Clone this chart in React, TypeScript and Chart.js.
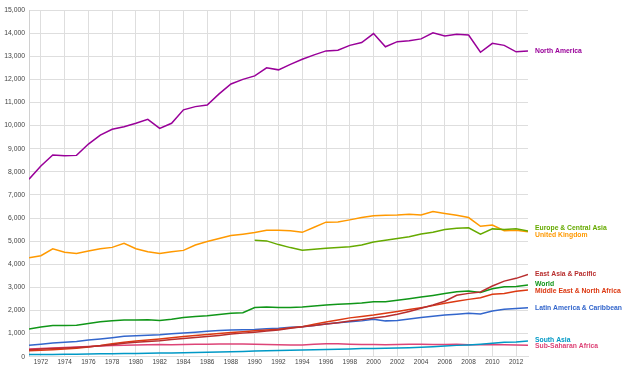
import React, { useEffect, useRef } from 'react';
import { Chart, registerables } from 'chart.js';

Chart.register(...registerables);

const years = [
  1971, 1972, 1973, 1974, 1975, 1976, 1977, 1978, 1979, 1980,
  1981, 1982, 1983, 1984, 1985, 1986, 1987, 1988, 1989, 1990,
  1991, 1992, 1993, 1994, 1995, 1996, 1997, 1998, 1999, 2000,
  2001, 2002, 2003, 2004, 2005, 2006, 2007, 2008, 2009, 2010,
  2011, 2012, 2013,
];

const xTickYears = [
  1972, 1974, 1976, 1978, 1980, 1982, 1984, 1986, 1988, 1990, 1992,
  1994, 1996, 1998, 2000, 2002, 2004, 2006, 2008, 2010, 2012,
];

const northAmerica = [
  7680, 8250, 8730, 8690, 8710, 9200, 9590, 9840, 9950, 10100,
  10270, 9880, 10100, 10680, 10820, 10890, 11370, 11800, 12000, 12150,
  12500, 12410, 12650, 12870, 13060, 13230, 13260, 13470, 13590, 13980,
  13410, 13630, 13670, 13750, 14010, 13880, 13950, 13920, 13170, 13560,
  13470, 13190, 13230,
];

const europeCentralAsia = [
  null, null, null, null, null, null, null, null, null, null,
  null, null, null, null, null, null, null, null, null, 5040,
  5010, 4850, 4720, 4610, 4650, 4690, 4720, 4760, 4830, 4960,
  5040, 5110, 5190, 5310, 5380, 5500, 5560, 5580, 5300, 5530,
  5500, 5540, 5440,
];

const unitedKingdom = [
  4280, 4370, 4670, 4520, 4470, 4570, 4670, 4730, 4910, 4670,
  4540, 4470, 4540, 4600, 4830, 4980, 5110, 5240, 5300, 5370,
  5470, 5470, 5450, 5380, 5600, 5820, 5830, 5920, 6020, 6100,
  6120, 6130, 6160, 6130, 6280, 6200, 6120, 6020, 5640, 5700,
  5450, 5470, 5410,
];

const eastAsiaPacific = [
  300, 330, 360, 380, 400, 430, 470, 520, 580, 630,
  660, 690, 740, 790, 830, 870, 920, 980, 1020, 1060,
  1110, 1160, 1230, 1300, 1350, 1410, 1470, 1540, 1600, 1670,
  1740, 1840, 1960, 2100, 2240, 2400, 2660, 2740, 2800, 3060,
  3270, 3390, 3560,
];

const world = [
  1200, 1280, 1350, 1350, 1360, 1440, 1510, 1560, 1590, 1590,
  1600, 1570, 1620, 1700, 1740, 1770, 1830, 1880, 1900, 2130,
  2150, 2130, 2130, 2150, 2190, 2240, 2270, 2290, 2320, 2380,
  2380, 2440, 2510, 2580, 2650, 2730, 2810, 2840, 2780, 2940,
  3030, 3040, 3100,
];

const middleEastNorthAfrica = [
  260, 280, 300, 330, 370, 420, 480, 560, 620, 680,
  720, 770, 820, 870, 920, 960, 1000, 1050, 1080, 1120,
  1150, 1190, 1250, 1300, 1400, 1500, 1590, 1680, 1740, 1800,
  1880, 1960, 2040, 2120, 2210, 2310, 2400, 2480, 2550, 2700,
  2730, 2830, 2890,
];

const latinAmericaCaribbean = [
  490, 540, 590, 620, 660, 720, 770, 820, 880, 910,
  930, 950, 990, 1030, 1060, 1100, 1130, 1160, 1170, 1180,
  1210, 1230, 1270, 1300, 1350, 1410, 1470, 1510, 1550, 1620,
  1550, 1570, 1630, 1700, 1750, 1800, 1840, 1880, 1850, 1980,
  2050, 2090, 2120,
];

const southAsia = [
  90, 95, 100, 105, 110, 120, 125, 130, 135, 140,
  145, 155, 160, 170, 180, 190, 200, 215, 230, 245,
  255, 265, 275, 290, 305, 315, 325, 335, 350, 360,
  365, 375, 390, 410, 430, 460, 490, 510, 540, 580,
  620, 640, 680,
];

const subSaharanAfrica = [
  330, 350, 380, 400, 420, 440, 460, 480, 500, 510,
  520, 530, 520, 530, 540, 540, 545, 550, 545, 540,
  530, 520, 510, 506, 540, 560, 560, 540, 530, 525,
  520, 525, 535, 535, 530, 530, 535, 520, 515, 530,
  515, 505, 490,
];

const seriesNames = [
  'North America',
  'Europe & Central Asia',
  'United Kingdom',
  'East Asia & Pacific',
  'World',
  'Middle East & North Africa',
  'Latin America & Caribbean',
  'South Asia',
  'Sub-Saharan Africa',
];

const seriesColors = [
  '#990099',
  '#66AA00',
  '#FF9900',
  '#B82E2E',
  '#109618',
  '#DC3912',
  '#3366CC',
  '#0099C6',
  '#DD4477',
];

const seriesValues = [
  northAmerica,
  europeCentralAsia,
  unitedKingdom,
  eastAsiaPacific,
  world,
  middleEastNorthAfrica,
  latinAmericaCaribbean,
  southAsia,
  subSaharanAfrica,
];

const FONT = '"Liberation Sans", Arial, Helvetica, sans-serif';

const endLabels = {
  id: 'endLabels',
  afterDatasetsDraw(chart: any) {
    const ctx = chart.ctx;
    const yScale = chart.scales.y;
    const area = chart.chartArea;
    const items = chart.data.datasets
      .map((ds: any) => {
        let last: number | null = null;
        for (let i = ds.data.length - 1; i >= 0; i--) {
          if (ds.data[i].y != null) {
            last = ds.data[i].y;
            break;
          }
        }
        return { text: ds.label, color: ds.borderColor, y: yScale.getPixelForValue(last) };
      })
      .sort((a: any, b: any) => a.y - b.y);
    const gap = 6.7;
    for (let it = 0; it < 200; it++) {
      let moved = false;
      for (let i = 0; i < items.length - 1; i++) {
        const d = items[i + 1].y - items[i].y;
        if (d < gap - 0.01) {
          const s = (gap - d) / 2;
          items[i].y -= s;
          items[i + 1].y += s;
          moved = true;
        }
      }
      if (!moved) break;
    }
    ctx.save();
    ctx.font = 'bold 6.8px ' + FONT;
    ctx.textBaseline = 'middle';
    ctx.textAlign = 'left';
    items.forEach((it: any) => {
      ctx.fillStyle = it.color;
      ctx.fillText(it.text, area.right + 7, it.y);
    });
    ctx.restore();
  },
};

export default function App() {
  const canvasRef = useRef<HTMLCanvasElement | null>(null);

  useEffect(() => {
    if (!canvasRef.current) return;
    const datasets = seriesNames.map((name, si) => ({
      label: name,
      data: years.map((yr, i) => ({ x: yr, y: seriesValues[si][i] })),
      borderColor: seriesColors[si],
      backgroundColor: seriesColors[si],
      borderWidth: 1.5,
      pointRadius: 0,
      tension: 0,
      spanGaps: false,
    }));

    const chart = new Chart(canvasRef.current, {
      type: 'line',
      data: { datasets },
      plugins: [endLabels],
      options: {
        responsive: false,
        animation: false,
        devicePixelRatio: 1,
        layout: { padding: { left: 0, right: 102, top: 10, bottom: 0 } },
        plugins: {
          legend: { display: false },
          tooltip: { enabled: false },
        },
        scales: {
          x: {
            type: 'linear',
            min: 1971,
            max: 2013,
            afterBuildTicks: (scale: any) => {
              scale.ticks = xTickYears.map((v) => ({ value: v }));
            },
            afterFit: (scale: any) => {
              scale.height = 12.3;
            },
            grid: { color: '#dedede', lineWidth: 1, drawTicks: false },
            border: { display: true, color: '#dedede' },
            ticks: {
              autoSkip: false,
              maxRotation: 0,
              padding: 2,
              color: '#444',
              font: { family: FONT, size: 6.5 },
              callback: (v: any) => String(v),
            },
          },
          y: {
            type: 'linear',
            min: 0,
            max: 15000,
            afterFit: (scale: any) => {
              scale.width = 29;
            },
            grid: { color: '#dedede', lineWidth: 1, drawTicks: false },
            border: { display: true, color: '#d0d0d0' },
            ticks: {
              stepSize: 1000,
              padding: 4,
              color: '#444',
              font: { family: FONT, size: 6.8 },
              callback: (v: any) => Number(v).toLocaleString('en-US'),
            },
          },
        },
      },
    });
    return () => chart.destroy();
  }, []);

  return (
    <div style={{ position: 'absolute', left: 0, top: 0, width: 630, height: 369, background: '#fff' }}>
      <canvas ref={canvasRef} width={630} height={369} style={{ display: 'block' }} />
    </div>
  );
}
